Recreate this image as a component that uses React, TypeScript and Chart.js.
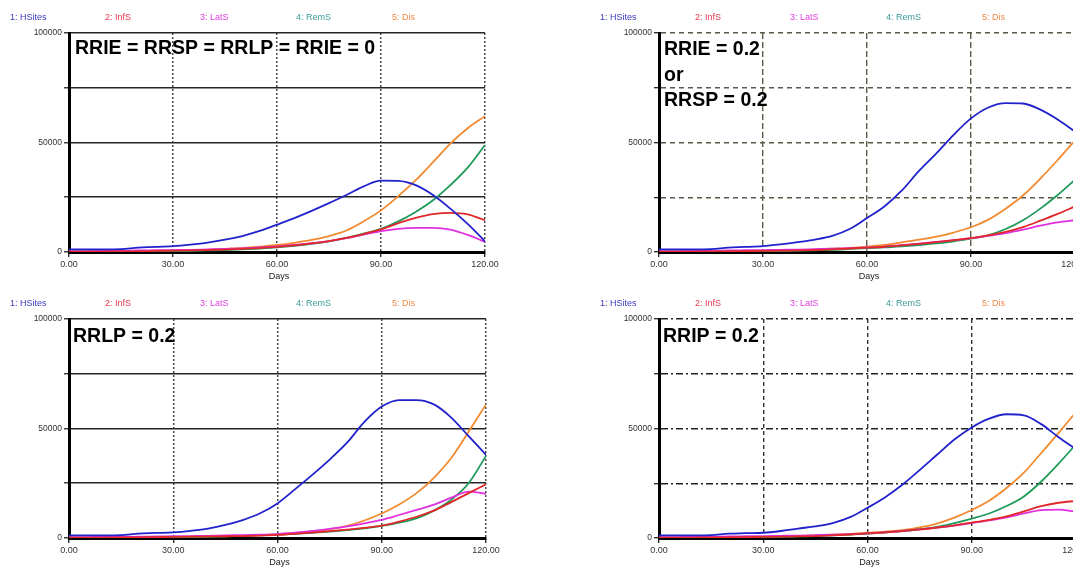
import React, { useEffect, useRef } from "react";
import { Chart, registerables } from "chart.js";
Chart.register(...registerables);

// ---------------- DATA ----------------
const DAYS = [0, 5, 10, 15, 20, 25, 30, 35, 40, 45, 50, 55, 60, 65, 70, 75, 80, 85, 90, 95, 100, 105, 110, 115, 120];
const SERIES_NAMES = ["1: HSites", "2: InfS", "3: LatS", "4: RemS", "5: Dis"];
const X_TICKS = [0, 30, 60, 90, 120];
const X_TICK_LABELS = ["0.00", "30.00", "60.00", "90.00", "120.00"];
const Y_TICKS = [0, 25000, 50000, 75000, 100000];
const Y_TICK_LABELS = ["0", "", "50000", "", "100000"];

// Panel A: RRIE = RRSP = RRLP = RRIE = 0
const A_HSITES = [1200, 1200, 1200, 1300, 2000, 2300, 2700, 3400, 4300, 5600, 7300, 9600, 12500, 15500, 18800, 22300, 26000, 30000, 32600, 32500, 30500, 26000, 19800, 12800, 4900];
const A_INFS = [200, 200, 200, 300, 300, 500, 600, 700, 900, 1100, 1400, 1800, 2300, 3000, 3900, 5000, 6400, 8200, 10300, 13200, 15600, 17300, 17900, 17200, 14500];
const A_LATS = [400, 400, 500, 500, 700, 800, 900, 1000, 1200, 1400, 1700, 2100, 2600, 3200, 4000, 5000, 6300, 7900, 9500, 10600, 11000, 11000, 10200, 7800, 4600];
const A_REMS = [0, 0, 100, 100, 200, 300, 400, 500, 700, 900, 1200, 1600, 2100, 2800, 3700, 4900, 6500, 8400, 10600, 14000, 18300, 23600, 30500, 38500, 48800];
const A_DIS = [0, 0, 0, 100, 200, 300, 500, 700, 1000, 1400, 1900, 2500, 3200, 4200, 5500, 7300, 9800, 14000, 19000, 25500, 32800, 41000, 49500, 56500, 62000];

// Panel B: RRIE = 0.2 or RRSP = 0.2
const B_HSITES = [1200, 1200, 1200, 1300, 2000, 2300, 2700, 3500, 4500, 5700, 7400, 10500, 15500, 20800, 28000, 37000, 45000, 53500, 61000, 66000, 68000, 67800, 65000, 60500, 55000];
const B_INFS = [200, 200, 200, 300, 300, 400, 500, 600, 700, 900, 1200, 1600, 2000, 2400, 3000, 3700, 4500, 5400, 6300, 7600, 9200, 11400, 14300, 17400, 20800];
const B_LATS = [400, 400, 500, 500, 700, 800, 900, 1000, 1100, 1300, 1500, 1800, 2100, 2500, 3100, 3800, 4600, 5400, 6300, 7400, 8600, 10200, 12000, 13500, 14500];
const B_REMS = [0, 0, 100, 100, 200, 300, 400, 500, 600, 800, 1000, 1400, 1800, 2100, 2600, 3200, 3900, 4900, 6100, 7700, 10500, 14500, 19800, 26000, 33000];
const B_DIS = [0, 0, 0, 100, 200, 300, 500, 600, 800, 1100, 1500, 1900, 2500, 3300, 4400, 5600, 7000, 8900, 11300, 14800, 19800, 25800, 33500, 42000, 51000];

// Panel C: RRLP = 0.2
const C_HSITES = [1200, 1200, 1200, 1300, 2000, 2300, 2600, 3300, 4300, 6000, 8200, 11300, 15800, 22200, 28800, 35800, 43500, 53000, 60000, 63000, 63000, 61000, 55000, 46500, 38000];
const C_INFS = [200, 200, 200, 300, 300, 400, 500, 600, 700, 800, 900, 1100, 1400, 1900, 2500, 3100, 3800, 4600, 5600, 7500, 9700, 12500, 16400, 20500, 24500];
const C_LATS = [400, 400, 500, 500, 600, 700, 800, 900, 1000, 1200, 1300, 1500, 1800, 2400, 3200, 4200, 5300, 6700, 8300, 10500, 12800, 15200, 18400, 21200, 20200];
const C_REMS = [0, 0, 100, 100, 200, 300, 400, 500, 600, 800, 1000, 1200, 1500, 1900, 2400, 2900, 3600, 4400, 5500, 7000, 9000, 12500, 17500, 25000, 37500];
const C_DIS = [0, 0, 0, 100, 200, 300, 400, 500, 600, 800, 1000, 1300, 1800, 2300, 2900, 3900, 5500, 8000, 11200, 15300, 20500, 27500, 36500, 48500, 61000];

// Panel D: RRIP = 0.2
const D_HSITES = [1200, 1200, 1200, 1300, 2000, 2200, 2400, 3200, 4300, 5300, 6800, 9500, 13800, 18500, 24300, 31000, 38000, 45000, 50500, 54500, 56500, 56000, 52000, 46000, 40500];
const D_INFS = [200, 200, 200, 300, 300, 400, 500, 600, 700, 900, 1200, 1600, 2100, 2600, 3200, 3900, 4800, 5800, 7000, 8300, 9900, 12200, 14500, 16100, 16900];
const D_LATS = [400, 400, 500, 500, 700, 800, 900, 1000, 1100, 1300, 1500, 1800, 2100, 2600, 3200, 3900, 4700, 5700, 6800, 8000, 9400, 11200, 12700, 13000, 12000];
const D_REMS = [0, 0, 100, 100, 200, 300, 400, 500, 700, 900, 1200, 1600, 2000, 2500, 3100, 4000, 5100, 6800, 8900, 11200, 14600, 19000, 25800, 34000, 42800];
const D_DIS = [0, 0, 0, 100, 200, 300, 500, 700, 900, 1200, 1500, 1900, 2400, 2900, 3600, 4800, 6600, 9300, 12800, 17000, 22800, 29800, 38800, 48000, 57500];

const A_TEXT = ["RRIE = RRSP = RRLP = RRIE = 0"];
const B_TEXT = ["RRIE = 0.2", "or", "RRSP = 0.2"];
const C_TEXT = ["RRLP = 0.2"];
const D_TEXT = ["RRIP = 0.2"];

// ---------------- STYLES ----------------
const LINE_COLORS = ["#2222cc", "#e02828", "#e030e0", "#1f9a5a", "#f28a30"];
const LEGEND_COLORS = ["#3a3ac0", "#e83850", "#e040e0", "#3a9a9a", "#f08848"];
const FONT = '"Liberation Sans", Arial, Helvetica, sans-serif';

type GridStyle = { color: string; width: number; dash: number[] };

type PanelProps = {
  left: number;
  top: number;
  series: number[][];
  text: string[];
  textX: number;
  textY: number;
  hGrid: GridStyle;
  vGrid: GridStyle;
  rightPad: number;
};

const W = 536;
const H = 286;
const AREA_TOP = 33;
const AREA_BOTTOM = 252;
const AREA_LEFT = 69;
const LEGEND_X = [10, 105, 200, 296, 392];

function Panel(props: PanelProps) {
  const ref = useRef<HTMLCanvasElement | null>(null);
  useEffect(() => {
    if (!ref.current) return;
    const textPlugin = {
      id: "panelText",
      afterDraw(chart: any) {
        const ctx = chart.ctx as CanvasRenderingContext2D;
        const area = chart.chartArea;
        ctx.save();
        ctx.font = `9px ${FONT}`;
        ctx.textAlign = "left";
        ctx.textBaseline = "middle";
        SERIES_NAMES.forEach((n, i) => {
          ctx.fillStyle = LEGEND_COLORS[i];
          ctx.fillText(n, LEGEND_X[i], 17.5);
        });
        ctx.fillStyle = "#222";
        ctx.textAlign = "center";
        ctx.fillText("Days", (area.left + area.right) / 2 + 2, 276.5);
        ctx.font = `bold 19.5px ${FONT}`;
        ctx.fillStyle = "#000";
        ctx.textAlign = "left";
        ctx.textBaseline = "alphabetic";
        props.text.forEach((t, i) => {
          ctx.fillText(t, props.textX, props.textY + i * 25.5);
        });
        ctx.restore();
      },
    };
    const chart = new Chart(ref.current, {
      type: "line",
      data: {
        datasets: props.series.map((vals, i) => ({
          label: SERIES_NAMES[i],
          data: DAYS.map((d, j) => ({ x: d, y: vals[j] })),
          borderColor: LINE_COLORS[i],
          backgroundColor: LINE_COLORS[i],
          borderWidth: 1.8,
          pointRadius: 0,
          fill: false,
          cubicInterpolationMode: "monotone" as const,
        })),
      },
      options: {
        animation: false,
        responsive: false,
        devicePixelRatio: 1,
        layout: { padding: { top: AREA_TOP, right: props.rightPad, bottom: 0, left: 0 } },
        plugins: { legend: { display: false }, tooltip: { enabled: false } },
        scales: {
          x: {
            type: "linear",
            min: 0,
            max: 120,
            afterBuildTicks: (s: any) => {
              s.ticks = X_TICKS.map((v) => ({ value: v }));
            },
            afterFit: (s: any) => {
              s.height = H - AREA_BOTTOM;
            },
            ticks: {
              autoSkip: false,
              maxRotation: 0,
              padding: 2,
              color: "#333",
              font: { family: FONT, size: 9 },
              callback: (v: any) => {
                const k = X_TICKS.indexOf(Number(v));
                return k >= 0 ? X_TICK_LABELS[k] : "";
              },
            },
            grid: {
              color: props.vGrid.color,
              lineWidth: props.vGrid.width,
              tickColor: "#111",
              tickLength: 5,
              tickWidth: 1.2,
              tickBorderDash: [],
            },
            border: { display: true, color: "#000", width: 3, dash: props.vGrid.dash },
          },
          y: {
            type: "linear",
            min: 0,
            max: 100000,
            afterBuildTicks: (s: any) => {
              s.ticks = Y_TICKS.map((v) => ({ value: v }));
            },
            afterFit: (s: any) => {
              s.width = AREA_LEFT;
            },
            ticks: {
              autoSkip: false,
              padding: 2,
              color: "#333",
              font: { family: FONT, size: 8.5 },
              callback: (v: any) => {
                const k = Y_TICKS.indexOf(Number(v));
                return k >= 0 ? Y_TICK_LABELS[k] : "";
              },
            },
            grid: {
              color: props.hGrid.color,
              lineWidth: props.hGrid.width,
              tickColor: "#111",
              tickLength: 5,
              tickWidth: 1.2,
              tickBorderDash: [],
            },
            border: { display: true, color: "#000", width: 3, dash: props.hGrid.dash },
          },
        },
      },
      plugins: [textPlugin],
    } as any);
    return () => chart.destroy();
  }, []);
  return (
    <canvas
      ref={ref}
      width={W}
      height={H}
      style={{ position: "absolute", left: props.left, top: props.top, width: W, height: H }}
    />
  );
}

const SOLID_H: GridStyle = { color: "#262626", width: 1.6, dash: [] };
const DOT_V: GridStyle = { color: "#4a4a4a", width: 1.5, dash: [2, 2] };
const DASH_H: GridStyle = { color: "#5a5a48", width: 1.4, dash: [5, 4] };
const DASH_V: GridStyle = { color: "#5a5a48", width: 1.4, dash: [6, 3] };
const DASHDOT_H: GridStyle = { color: "#222", width: 1.5, dash: [7, 3, 2, 3] };
const DASH_V2: GridStyle = { color: "#333", width: 1.4, dash: [4, 3] };

export default function App() {
  return (
    <div
      style={{
        position: "fixed",
        left: 0,
        top: 0,
        width: 1073,
        height: 567,
        overflow: "hidden",
        background: "#fff",
      }}
    >
      <Panel left={0} top={0} series={[A_HSITES, A_INFS, A_LATS, A_REMS, A_DIS]} text={A_TEXT} textX={75} textY={54} hGrid={SOLID_H} vGrid={DOT_V} rightPad={W - 485} />
      <Panel left={590} top={0} series={[B_HSITES, B_INFS, B_LATS, B_REMS, B_DIS]} text={B_TEXT} textX={74} textY={55} hGrid={DASH_H} vGrid={DASH_V} rightPad={W - 485} />
      <Panel left={0} top={286} series={[C_HSITES, C_INFS, C_LATS, C_REMS, C_DIS]} text={C_TEXT} textX={73} textY={56} hGrid={SOLID_H} vGrid={DOT_V} rightPad={W - 486} />
      <Panel left={590} top={286} series={[D_HSITES, D_INFS, D_LATS, D_REMS, D_DIS]} text={D_TEXT} textX={73} textY={56} hGrid={DASHDOT_H} vGrid={DASH_V2} rightPad={W - 486} />
    </div>
  );
}
